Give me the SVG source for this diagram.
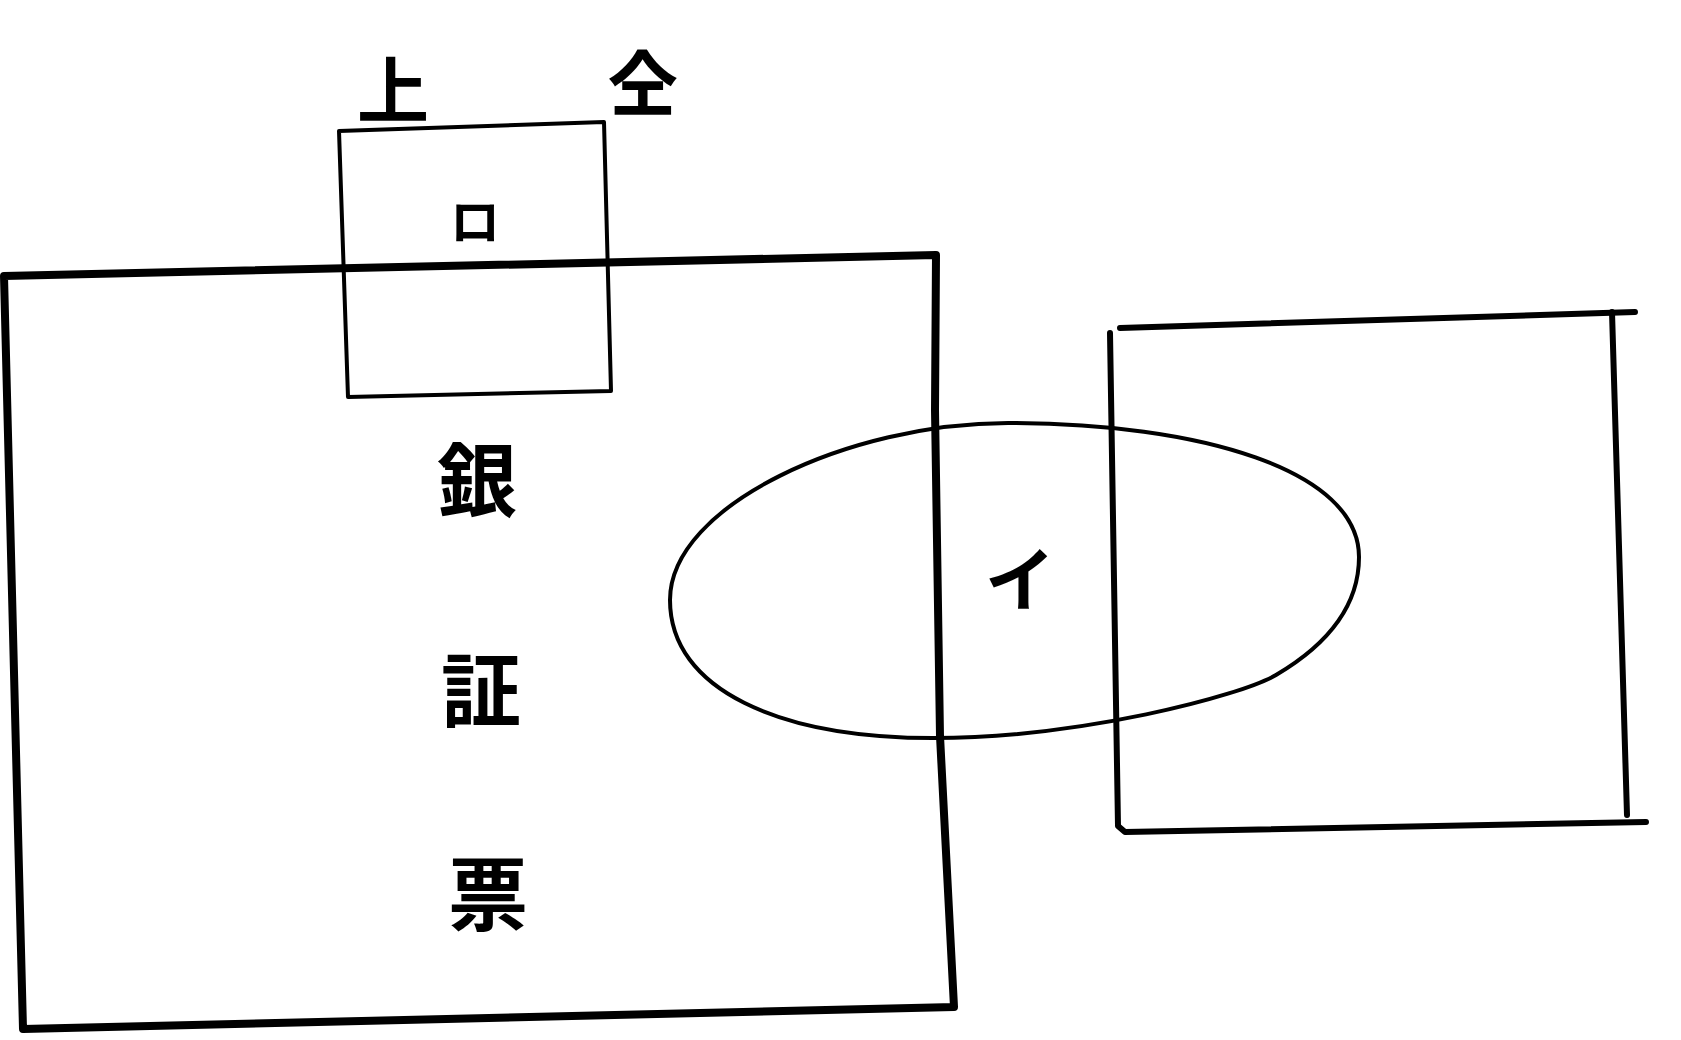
<svg xmlns="http://www.w3.org/2000/svg" width="1681" height="1040" viewBox="0 0 1681 1040">
<style>
.t{font-family:"Noto Sans CJK JP","Noto Sans CJK SC",sans-serif;font-weight:bold;fill:#000;text-anchor:middle;dominant-baseline:central}
.thick{fill:none;stroke:#000;stroke-width:8;stroke-linejoin:round;stroke-linecap:round}
.mid{fill:none;stroke:#000;stroke-width:6;stroke-linejoin:round;stroke-linecap:round}
.thin{fill:none;stroke:#000;stroke-width:4;stroke-linejoin:round;stroke-linecap:round}
</style>
<rect width="1681" height="1040" fill="#fff"/>
<g id="main-slip">
<path class="thick" d="M936,255 L4,276 L23,1029 L954,1007 L940,736 L935,410 Z"/>
<text class="t" x="477" y="475" font-size="80">銀</text>
<text class="t" x="481" y="685" font-size="80">証</text>
<text class="t" x="488" y="889" font-size="80">票</text>
</g>
<g id="tab-ro">
<path class="thin" d="M339,131 L604,122 L611,391 L348,397 Z"/>
<text class="t" x="475" y="218" font-size="50">ロ</text>
</g>
<g id="right-slip">
<path class="mid" d="M1120,328 L1635,312"/>
<path class="mid" d="M1110,333 L1118,826 L1125,832 L1646,822"/>
<path class="mid" d="M1612,312 L1627,815"/>
</g>
<g id="seal-i">
<path class="thin" d="M670,600 C670,505 850,423 1008,423 C1200,423 1359,470 1359,557 C1359,615 1315,652 1276,675 C1240,696 1080,738 933,738 C780,738 670,690 670,600 Z"/>
<text class="t" x="1020" y="575" font-size="70">イ</text>
</g>
<g id="labels">
<text class="t" x="393" y="85" font-size="72">上</text>
<text class="t" x="643" y="78" font-size="72">仝</text>
</g>
</svg>
